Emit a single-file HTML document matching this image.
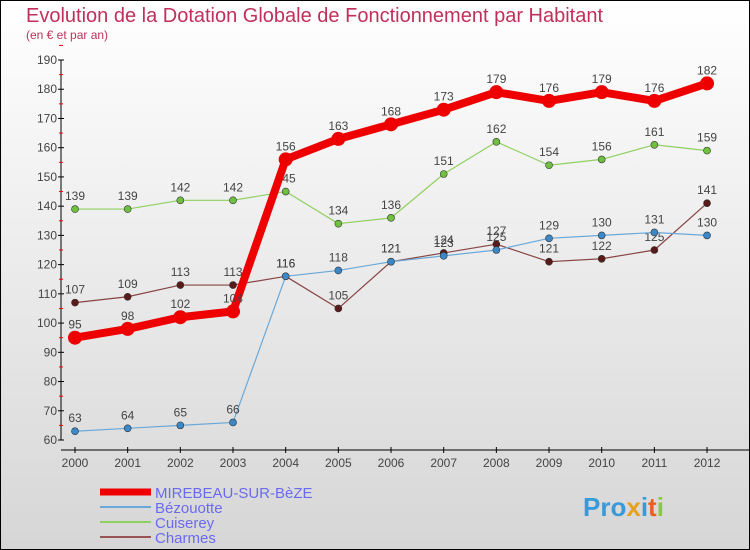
<!DOCTYPE html>
<html><head><meta charset="utf-8"><style>
body{margin:0;width:750px;height:550px;overflow:hidden;font-family:"Liberation Sans",sans-serif}
#c{position:absolute;left:0;top:0;width:748px;height:548px;border:1px solid #000;background:linear-gradient(#fff,#d6d6d6)}
</style></head><body>
<div id="c">
<svg width="750" height="550" style="position:absolute;left:-1px;top:-1px" id="svg">
<text x="26" y="22" font-size="20" fill="#c0305a">Evolution de la Dotation Globale de Fonctionnement par Habitant</text>
<text x="26" y="39" font-size="12" fill="#c0305a">(en € et par an)</text>
<g id="axes"></g><g id="series"></g><g id="legend"></g>
<g font-size="26" font-weight="bold">
<text x="583" y="516"><tspan fill="#3a9ad9">Pro</tspan><tspan fill="#e8a020">x</tspan><tspan fill="#3a9ad9">i</tspan><tspan fill="#e86020">t</tspan><tspan fill="#8cc83c">i</tspan></text>
</g>
</svg></div>
<script>
const years=[2000,2001,2002,2003,2004,2005,2006,2007,2008,2009,2010,2011,2012];
const yTicks=[60,70,80,90,100,110,120,130,140,150,160,170,180,190];
const mirebeau=[95,98,102,104,156,163,168,173,179,176,179,176,182];
const bezouotte=[63,64,65,66,116,118,121,123,125,129,130,131,130];
const cuiserey=[139,139,142,142,145,134,136,151,162,154,156,161,159];
const charmes=[107,109,113,113,116,105,121,124,127,121,122,125,141];
const seriesNames=["MIREBEAU-SUR-BèZE","Bézouotte","Cuiserey","Charmes"];
const NS="http://www.w3.org/2000/svg";
const X=i=>75+i*52.67, Y=v=>440-(v-60)*2.923;
function mk(t,a,p){const e=document.createElementNS(NS,t);for(const k in a)e.setAttribute(k,a[k]);p.appendChild(e);return e;}
const ax=document.getElementById('axes');
const ya=mk('line',{x1:61,y1:Y(190),x2:61,y2:Y(60),stroke:'#000'},ax);


yTicks.forEach(v=>{mk('line',{x1:58,x2:64,y1:Y(v),y2:Y(v),stroke:'#000'},ax);
 mk('line',{x1:59,x2:63,y1:Y(v+5),y2:Y(v+5),stroke:'#e00'},ax);
 const t=mk('text',{x:57,y:Y(v)+4,'font-size':12,fill:'#444','text-anchor':'end'},ax);t.textContent=v;
 
 });
const xa=mk('line',{x1:61,y1:450,x2:750,y2:450,stroke:'#000'},ax);


years.forEach((y,i)=>{mk('line',{x1:X(i),x2:X(i),y1:447,y2:453,stroke:'#000'},ax);
 const t=mk('text',{x:X(i),y:467,'font-size':12,fill:'#444','text-anchor':'middle'},ax);t.textContent=y;
 
 });
const sg=document.getElementById('series');
const defs=[[cuiserey,'#90d060','#70c040',1.2,3.5,'cuiserey'],[charmes,'#884444','#5a1a1a',1.2,3.5,'charmes'],[bezouotte,'#6aa8d8','#3a88c8',1.2,3.5,'bezouotte'],[mirebeau,'#ee0000','#ee0000',8,7,'mirebeau']];
defs.forEach(([d,lc,pc,w,r,n])=>{
 const p=mk('polyline',{points:d.map((v,i)=>X(i)+','+Y(v)).join(' '),fill:'none',stroke:lc,'stroke-width':w,'stroke-linejoin':'round'},sg);
 
 
 d.forEach((v,i)=>{const c=mk('circle',{cx:X(i),cy:Y(v),r:r,fill:pc,stroke:'#333','stroke-width':w>2?0:0.6},sg);
  
  
  const t=mk('text',{x:X(i),y:Y(v)-9,'font-size':12,fill:'#444','text-anchor':'middle'},sg);t.textContent=v;
  
  });
});
const lg=document.getElementById('legend');
const lcol=['#ee0000','#6aa8d8','#90d060','#995555'],lw=[7,2,2,2];
seriesNames.forEach((s,i)=>{const y=492+i*15;
 const l=mk('line',{x1:100,x2:151,y1:y,y2:y,stroke:lcol[i],'stroke-width':lw[i]},lg);
 
 
 const t=mk('text',{x:155,y:y+6,'font-size':15,fill:'#6a6af0'},lg);t.textContent=s;
 
 });
</script></body></html>
